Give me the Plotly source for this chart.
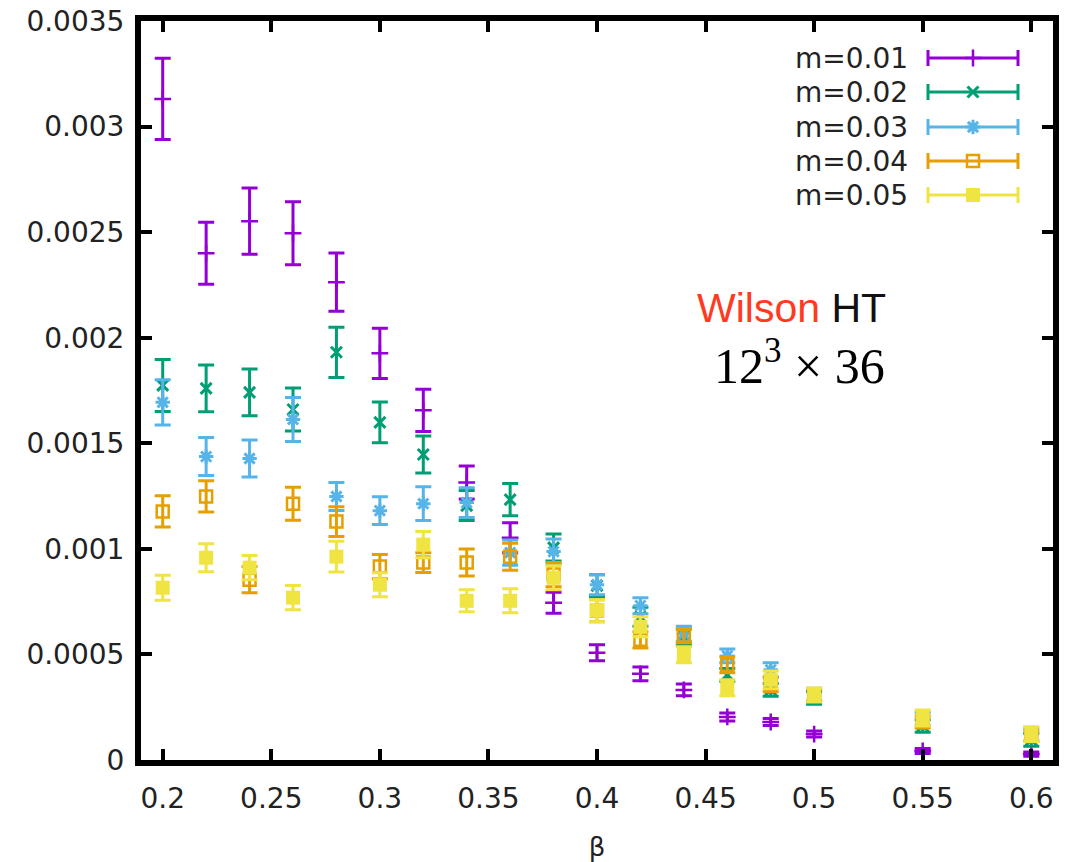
import plotly.graph_objects as go

# Coupling values (beta) shared by all mass series
beta = [0.20, 0.22, 0.24, 0.26, 0.28, 0.30, 0.32, 0.34, 0.36,
        0.38, 0.40, 0.42, 0.44, 0.46, 0.48, 0.50, 0.55, 0.60]

m001 = [0.003131, 0.002400, 0.002552, 0.002495, 0.002263, 0.001926, 0.001656, 0.001314, 0.001053,
        0.000745, 0.000508, 0.000408, 0.000332, 0.000204, 0.000180, 0.000123, 0.000043, 0.000028]
m001_err = [0.000192, 0.000147, 0.000157, 0.000149, 0.000138, 0.000119, 0.000100, 0.000078, 0.000071,
            0.000050, 0.000038, 0.000033, 0.000028, 0.000019, 0.000017, 0.000014, 0.000012, 0.000010]

m002 = [0.001774, 0.001760, 0.001741, 0.001660, 0.001931, 0.001599, 0.001447, 0.001205, 0.001233,
        0.001006, 0.000825, 0.000678, 0.000583, 0.000403, 0.000332, 0.000294, 0.000161, 0.000095]
m002_err = [0.000123, 0.000111, 0.000111, 0.000102, 0.000119, 0.000097, 0.000088, 0.000071, 0.000076,
            0.000064, 0.000052, 0.000045, 0.000038, 0.000030, 0.000030, 0.000030, 0.000030, 0.000030]

m003 = [0.001694, 0.001437, 0.001428, 0.001613, 0.001248, 0.001181, 0.001214, 0.001219, 0.000982,
        0.000987, 0.000830, 0.000731, 0.000598, 0.000493, 0.000427, 0.000310, 0.000195, 0.000120]
m003_err = [0.000107, 0.000090, 0.000088, 0.000104, 0.000066, 0.000066, 0.000080, 0.000070, 0.000060,
            0.000060, 0.000047, 0.000038, 0.000036, 0.000033, 0.000033, 0.000030, 0.000030, 0.000030]

m004 = [0.001177, 0.001248, 0.000854, 0.001214, 0.001129, 0.000916, 0.000935, 0.000935, 0.000963,
        0.000878, 0.000707, 0.000569, 0.000588, 0.000451, 0.000356, 0.000308, 0.000180, 0.000114]
m004_err = [0.000074, 0.000074, 0.000062, 0.000078, 0.000071, 0.000057, 0.000047, 0.000064, 0.000064,
            0.000057, 0.000052, 0.000038, 0.000033, 0.000038, 0.000033, 0.000030, 0.000028, 0.000025]

m005 = [0.000816, 0.000958, 0.000911, 0.000769, 0.000963, 0.000830, 0.001020, 0.000754, 0.000754,
        0.000863, 0.000707, 0.000631, 0.000498, 0.000342, 0.000380, 0.000308, 0.000199, 0.000123]
m005_err = [0.000059, 0.000066, 0.000057, 0.000057, 0.000073, 0.000057, 0.000062, 0.000052, 0.000057,
            0.000057, 0.000052, 0.000047, 0.000038, 0.000038, 0.000042, 0.000033, 0.000038, 0.000035]

series_labels = ["m=0.01", "m=0.02", "m=0.03", "m=0.04", "m=0.05"]

x_tick_vals = [0.2, 0.25, 0.3, 0.35, 0.4, 0.45, 0.5, 0.55, 0.6]
x_tick_text = ["0.2", "0.25", "0.3", "0.35", "0.4", "0.45", "0.5", "0.55", "0.6"]
y_tick_vals = [0, 0.0005, 0.001, 0.0015, 0.002, 0.0025, 0.003, 0.0035]
y_tick_text = ["0", "0.0005", "0.001", "0.0015", "0.002", "0.0025", "0.003", "0.0035"]

# gnuplot-like styling per series
styles = [
    dict(color="#9400D3", symbol="cross-thin", size=12, lw=2.5),
    dict(color="#009E73", symbol="x-thin", size=11, lw=3),
    dict(color="#56B4E9", symbol="asterisk", size=12, lw=3),
    dict(color="#E69F00", symbol="square-open", size=12, lw=2.5),
    dict(color="#F0E442", symbol="square", size=14, lw=0),
]

series = [(m001, m001_err), (m002, m002_err), (m003, m003_err),
          (m004, m004_err), (m005, m005_err)]

fig = go.Figure()

for (vals, errs), st, name in zip(series, styles, series_labels):
    fig.add_trace(go.Scatter(
        x=beta, y=vals, mode="markers", name=name,
        marker=dict(symbol=st["symbol"], size=st["size"], color=st["color"],
                    line=dict(color=st["color"], width=st["lw"])),
        error_y=dict(type="data", array=errs, visible=True,
                     color=st["color"], thickness=3, width=8),
        showlegend=False,
    ))

# Key drawn on a pixel-scaled overlay axis: label right-aligned, error-bar sample on the right
PLOT_L, PLOT_R, PLOT_B, PLOT_T = 141, 1053, 760, 21
key_rows = [58, 92, 127, 161, 195]
key_center_x = 973
key_half_len = 45
key_text_x = 910

for row_y, st, name in zip(key_rows, styles, series_labels):
    fig.add_trace(go.Scatter(
        x=[key_center_x], y=[row_y], mode="markers", xaxis="x2", yaxis="y2",
        marker=dict(symbol=st["symbol"], size=st["size"], color=st["color"],
                    line=dict(color=st["color"], width=st["lw"])),
        error_x=dict(type="data", array=[key_half_len], visible=True,
                     color=st["color"], thickness=3, width=8),
        showlegend=False, hoverinfo="skip",
    ))
    fig.add_annotation(x=key_text_x, y=row_y, xref="x2", yref="y2",
                       text=name, showarrow=False, xanchor="right", yanchor="middle",
                       font=dict(family="DejaVu Sans", size=28, color="#222"))

fig.add_annotation(x=791, y=308, xref="x2", yref="y2", showarrow=False,
                   text='<span style="color:#ff3b1f">Wilson</span> HT',
                   font=dict(family="Liberation Sans", size=41, color="#111"))
fig.add_annotation(x=799, y=362, xref="x2", yref="y2", showarrow=False,
                   text="12<sup>3</sup> × 36",
                   font=dict(family="Liberation Serif", size=50, color="#000"))

axis_common = dict(
    showline=True, linewidth=6, linecolor="black", mirror="ticks",
    ticks="inside", ticklen=11, tickwidth=4, tickcolor="black",
    showgrid=False, zeroline=False, automargin=False,
    tickfont=dict(family="DejaVu Sans", size=28, color="#222"),
)

fig.update_layout(
    width=1066, height=862,
    margin=dict(l=PLOT_L, r=1066 - PLOT_R, t=PLOT_T, b=862 - PLOT_B),
    plot_bgcolor="white", paper_bgcolor="white",
    showlegend=False,
    xaxis=dict(range=[0.19, 0.61], tickvals=x_tick_vals, ticktext=x_tick_text,
               ticklabelstandoff=8,
               title=dict(text="β", font=dict(family="DejaVu Sans", size=26, color="#222"),
                          standoff=28),
               **axis_common),
    yaxis=dict(range=[0, 0.0035], tickvals=y_tick_vals, ticktext=y_tick_text,
               ticklabelstandoff=5,
               **axis_common),
    xaxis2=dict(range=[PLOT_L, PLOT_R], overlaying="x", anchor="y2", visible=False),
    yaxis2=dict(range=[PLOT_B, PLOT_T], overlaying="y", anchor="x2", visible=False),
)

fig.write_html("out.html")
